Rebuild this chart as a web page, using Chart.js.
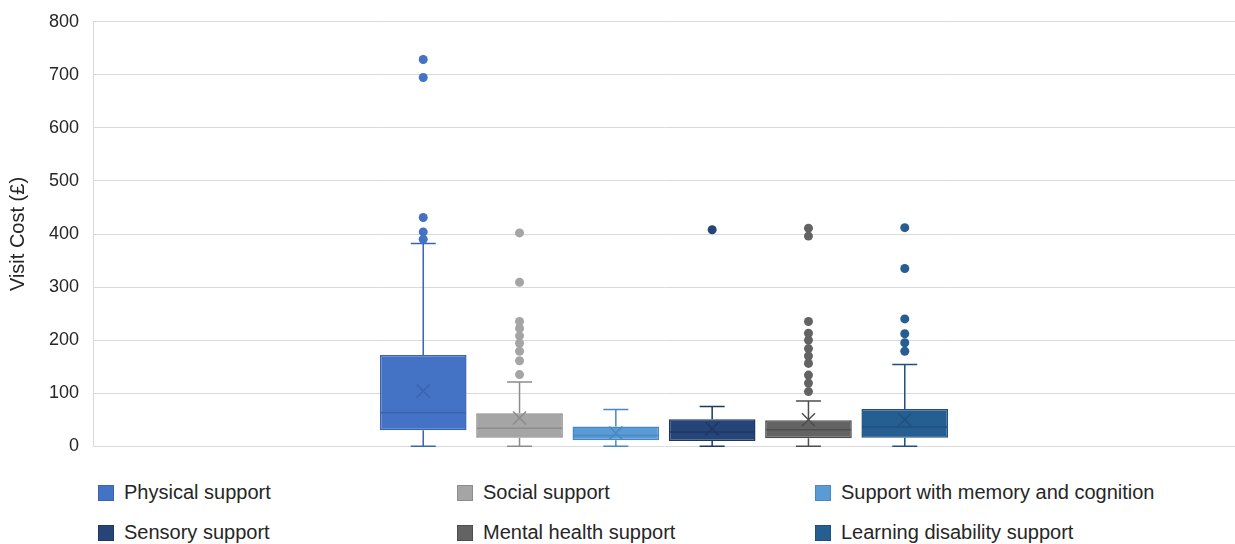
<!DOCTYPE html>
<html>
<head>
<meta charset="utf-8">
<script src="https://cdn.jsdelivr.net/npm/chart.js"></script>
<style>
  html, body { margin: 0; padding: 0; background: #fff; }
  #wrap { position: relative; width: 1235px; height: 544px; overflow: hidden; font-family: "Liberation Sans", Arial, sans-serif; }
  #plot { position: absolute; left: 0; top: -3px; width: 1235px; height: 474px; }
  .leg { position: absolute; display: flex; align-items: center; font-size: 20px; color: #262626; white-space: nowrap; }
  .leg span.sw { display: inline-block; width: 16px; height: 16px; margin-right: 10px; box-sizing: border-box; border: 1px solid; }
</style>
</head>
<body>
<div id="wrap">
  <div id="plot"><canvas id="c"></canvas></div>
  <div id="legend"></div>
</div>
<script>
"use strict";
// Custos de visita por tipo de apoio (box & whisker)
const seriesNames = ['Physical support', 'Social support', 'Support with memory and cognition',
  'Sensory support', 'Mental health support', 'Learning disability support'];
const fillColors = ['#4472C4', '#A5A5A5', '#5B9BD5', '#264478', '#636363', '#255E91'];
const lineColors = ['#3A64B0', '#8C8C8C', '#4A88C2', '#1E3862', '#4E4E4E', '#1F5080'];

const whiskerMin = [0, 0, 0, 0, 0, 0];
const q1 = [30, 16, 11, 10, 15, 16];
const median = [63, 34, 20, 27, 31, 36];
const q3 = [172, 62, 37, 51, 49, 70];
const whiskerMax = [382, 121, 69, 75, 85, 154];
const means = [104, 53, 25, 33, 50, 50];
const outliers = [
  [729, 695, 431, 404, 390],
  [402, 309, 235, 222, 208, 194, 179, 161, 135],
  [],
  [408],
  [411, 396, 235, 213, 200, 184, 170, 156, 134, 119, 103],
  [412, 335, 240, 212, 195, 179]
];
const yTicks = [0, 100, 200, 300, 400, 500, 600, 700, 800];

// bigodes, mediana, média (X) e outliers por cima das caixas
const boxExtras = {
  id: 'boxExtras',
  afterDatasetsDraw(chart) {
    const ctx = chart.ctx;
    const y = chart.scales.y;
    ctx.save();
    chart.data.datasets.forEach((ds, i) => {
      const bar = chart.getDatasetMeta(i).data[0];
      const x = bar.x, half = bar.width / 2;
      const cap = 12.5;
      ctx.strokeStyle = lineColors[i];
      ctx.lineWidth = 1.5;
      ctx.beginPath();
      ctx.moveTo(x, y.getPixelForValue(q3[i]));
      ctx.lineTo(x, y.getPixelForValue(whiskerMax[i]));
      ctx.moveTo(x - cap, y.getPixelForValue(whiskerMax[i]));
      ctx.lineTo(x + cap, y.getPixelForValue(whiskerMax[i]));
      ctx.moveTo(x, y.getPixelForValue(q1[i]));
      ctx.lineTo(x, y.getPixelForValue(whiskerMin[i]));
      ctx.moveTo(x - cap, y.getPixelForValue(whiskerMin[i]));
      ctx.lineTo(x + cap, y.getPixelForValue(whiskerMin[i]));
      ctx.stroke();
      // mediana
      ctx.beginPath();
      const ym = y.getPixelForValue(median[i]);
      ctx.moveTo(x - half + 1, ym);
      ctx.lineTo(x + half - 1, ym);
      ctx.stroke();
      // média
      const yx = y.getPixelForValue(means[i]);
      const s = 6.5;
      ctx.beginPath();
      ctx.moveTo(x - s, yx - s); ctx.lineTo(x + s, yx + s);
      ctx.moveTo(x - s, yx + s); ctx.lineTo(x + s, yx - s);
      ctx.stroke();
      // outliers
      ctx.fillStyle = fillColors[i];
      outliers[i].forEach(v => {
        ctx.beginPath();
        ctx.arc(x, y.getPixelForValue(v), 4.5, 0, Math.PI * 2);
        ctx.fill();
      });
    });
    ctx.restore();
  }
};

new Chart(document.getElementById('c').getContext('2d'), {
  type: 'bar',
  data: {
    labels: [''],
    datasets: seriesNames.map((name, i) => ({
      label: name,
      data: [[q1[i], q3[i]]],
      backgroundColor: fillColors[i],
      borderColor: lineColors[i],
      borderWidth: 1.5,
      borderSkipped: false,
      categoryPercentage: 0.506,
      barPercentage: 0.9
    }))
  },
  options: {
    responsive: true,
    maintainAspectRatio: false,
    animation: false,
    layout: { padding: { top: 18, bottom: 8, right: 0, left: 0 } },
    plugins: { legend: { display: false }, tooltip: { enabled: false } },
    scales: {
      x: { display: false },
      y: {
        min: 0,
        max: 800,
        afterBuildTicks: s => { s.ticks = yTicks.map(v => ({ value: v })); },
        afterFit: s => { s.width = 93; },
        ticks: { color: '#262626', padding: 14, font: { family: '"Liberation Sans", Arial, sans-serif', size: 18 } },
        grid: { color: '#D9D9D9', lineWidth: 1, drawTicks: false },
        border: { color: '#D9D9D9' },
        title: {
          display: true,
          text: 'Visit Cost (£)',
          color: '#262626',
          padding: { top: 6, bottom: 0 },
          font: { family: '"Liberation Sans", Arial, sans-serif', size: 20 }
        }
      }
    }
  },
  plugins: [boxExtras]
});

// legenda em três colunas
const legendPos = [[98, 493], [457, 493], [815, 493], [98, 533], [457, 533], [815, 533]];
const legend = document.getElementById('legend');
seriesNames.forEach((name, i) => {
  const d = document.createElement('div');
  d.className = 'leg';
  d.style.left = legendPos[i][0] + 'px';
  d.style.top = (legendPos[i][1] - 12) + 'px';
  d.innerHTML = '<span class="sw" style="background:' + fillColors[i] + ';border-color:' + lineColors[i] + '"></span>' + name;
  legend.appendChild(d);
});
</script>
</body>
</html>
